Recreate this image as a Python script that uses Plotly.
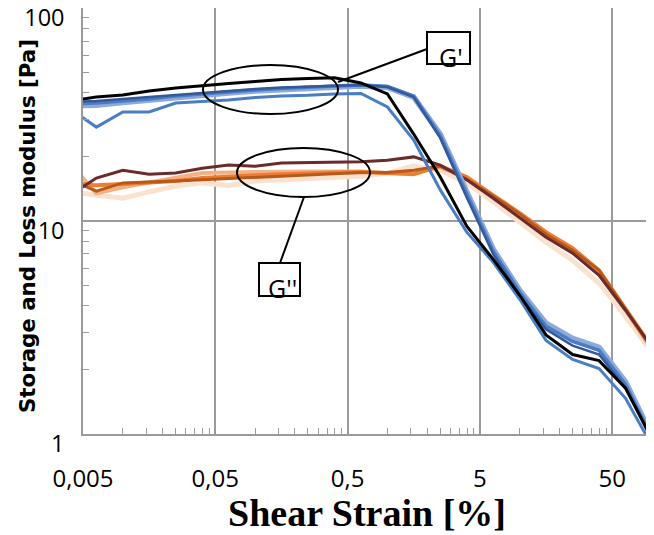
import plotly.graph_objects as go

# Shear strain [%] (measurement points, 5 per decade)
strain = [0.00398, 0.00631, 0.01, 0.0158, 0.0251, 0.0398, 0.0631, 0.1, 0.158, 0.251,
          0.398, 0.631, 1.0, 1.58, 2.51, 3.98, 6.31, 10.0, 15.8, 25.1, 39.8, 63.1, 100.0]

# Storage modulus G' [Pa]
g1_black = [36.6, 38.2, 39.1, 40.8, 42.1, 43.3, 44.2, 45.2, 46.2, 46.7, 47.0, 44.5, 39.5,
            25.6, 16.1, 9.45, 6.61, 4.48, 2.92, 2.36, 2.21, 1.64, 0.95]
g1_dark = [36.2, 36.6, 37.4, 38.2, 39.3, 40.1, 41.0, 41.7, 42.4, 42.8, 43.3, 43.5, 42.6,
           38.2, 24.5, 12.9, 6.98, 4.48, 3.10, 2.60, 2.36, 1.65, 0.93]
g1_mid = [35.4, 35.8, 36.6, 37.4, 38.6, 39.5, 40.4, 41.2, 41.9, 42.6, 43.1, 43.5, 42.8,
          38.6, 25.1, 13.4, 7.21, 4.63, 3.20, 2.72, 2.47, 1.71, 0.96]
g1_light = [34.7, 35.0, 36.0, 37.0, 38.2, 39.1, 39.9, 40.8, 41.5, 42.1, 42.6, 43.1, 42.4,
            38.2, 25.6, 13.7, 7.37, 4.73, 3.31, 2.81, 2.55, 1.76, 0.98]
g1_low = [33.6, 27.6, 32.5, 32.5, 35.8, 36.4, 37.0, 38.0, 38.6, 38.9, 39.5, 39.7, 34.3,
          24.0, 14.0, 8.86, 6.40, 4.29, 2.75, 2.24, 2.03, 1.47, 0.88]

# Loss modulus G'' [Pa]
g2_maroon = [13.2, 15.9, 17.3, 16.6, 16.8, 17.7, 18.3, 18.1, 18.7, 18.8, 18.9, 19.0, 19.3,
             20.0, 18.3, 15.6, 12.8, 10.4, 8.39, 7.06, 5.56, 3.81, 2.55]
g2_brown = [15.6, 13.8, 15.1, 15.2, 15.4, 15.6, 15.8, 16.1, 16.3, 16.5, 16.7, 16.9, 16.9,
            17.3, 18.1, 15.7, 13.1, 10.8, 8.67, 7.29, 5.87, 3.85, 2.52]
g2_orange = [15.1, 14.7, 14.9, 15.1, 15.4, 15.9, 16.2, 16.4, 16.6, 16.8, 16.9, 17.0, 16.8,
             16.6, 18.1, 16.1, 13.2, 10.9, 8.86, 7.45, 5.87, 3.89, 2.55]
g2_lightorange = [18.7, 13.5, 14.4, 15.1, 15.9, 16.8, 16.9, 17.0, 17.1, 17.1, 17.1, 17.1, 16.8,
                  17.0, 17.9, 15.9, 12.9, 10.5, 8.58, 7.13, 5.62, 3.81, 2.47]
g2_peach = [13.7, 13.2, 12.8, 13.7, 14.6, 15.1, 14.7, 15.4, 15.6, 15.8, 16.0, 16.2, 16.8,
            18.1, 17.3, 15.1, 12.3, 9.87, 7.95, 6.54, 5.10, 3.57, 2.41]

x_tickvals = [0.005, 0.05, 0.5, 5, 50]
x_ticktext = ["0,005", "0,05", "0,5", "5", "50"]
y_tickvals = [1, 10, 100]
y_ticktext = ["1", "10", "100"]

fig = go.Figure()

series = [
    (g2_peach, "#FBE1CF", 5),
    (g2_lightorange, "#F4B183", 4),
    (g2_orange, "#ED7D31", 4),
    (g2_brown, "#B8581A", 3),
    (g2_maroon, "#6B2B2B", 3),
    (g1_light, "#8EAADB", 5.5),
    (g1_mid, "#4A7DC4", 3.5),
    (g1_dark, "#34599A", 2.5),
    (g1_low, "#4A7EC4", 3),
    (g1_black, "#000000", 3),
]
for ys, col, w in series:
    fig.add_trace(go.Scatter(x=strain, y=ys, mode="lines",
                             line=dict(color=col, width=w), showlegend=False,
                             hoverinfo="skip"))

# plot-area geometry (page pixels) for annotation placement
L, R, T, B = 83, 652, 8, 434
def px(x):
    return (x - L) / (R - L)
def py(y):
    return (B - y) / (B - T)

shapes = []
def ellipse(x0, x1, y0, y1):
    shapes.append(dict(type="circle", xref="paper", yref="paper",
                       x0=px(x0), x1=px(x1), y0=py(y1), y1=py(y0),
                       line=dict(color="black", width=2)))
def seg(x0, y0, x1, y1):
    shapes.append(dict(type="line", xref="paper", yref="paper",
                       x0=px(x0), y0=py(y0), x1=px(x1), y1=py(y1),
                       line=dict(color="black", width=2)))
def box(x0, x1, y0, y1):
    shapes.append(dict(type="rect", xref="paper", yref="paper",
                       x0=px(x0), x1=px(x1), y0=py(y1), y1=py(y0),
                       line=dict(color="black", width=2), fillcolor="rgba(0,0,0,0)"))

ellipse(203, 338, 65, 114)
ellipse(237, 370, 148, 197)
seg(338, 82, 427, 49)
seg(304, 197, 280, 263)
box(427, 470, 32, 64)
box(259, 300, 263, 296)

annotations = [
    dict(text="G'", xref="paper", yref="paper", x=px(451), y=py(57), showarrow=False,
         xanchor="center", yanchor="middle",
         font=dict(family="Open Sans", size=25, color="black")),
    dict(text="G''", xref="paper", yref="paper", x=px(282), y=py(288), showarrow=False,
         xanchor="center", yanchor="middle",
         font=dict(family="Open Sans", size=25, color="black")),
    dict(text="<b>Shear Strain [%]</b>", xref="paper", yref="paper",
         x=px(367), y=py(513), showarrow=False, xanchor="center", yanchor="middle",
         font=dict(family="Liberation Serif", size=38, color="black")),
    dict(text="<b>Storage and Loss modulus [Pa]</b>", xref="paper", yref="paper",
         x=px(27), y=py(226), showarrow=False, xanchor="center", yanchor="middle",
         textangle=-90,
         font=dict(family="DejaVu Sans", size=21.3, color="black")),
]

grid = "#9A9A9A"
fig.update_layout(
    # the page body adds an 8 px margin, so the figure is 8 px smaller and shifted
    width=646, height=527,
    margin=dict(l=75, r=2, t=0, b=101),
    paper_bgcolor="white", plot_bgcolor="white",
    shapes=shapes, annotations=annotations,
    xaxis=dict(type="log", range=[-2.30103, 2.0], automargin=False,
               tickmode="array", tickvals=x_tickvals, ticktext=x_ticktext,
               ticks="", showgrid=True, gridcolor=grid, gridwidth=1.5,
               showline=True, linecolor=grid, linewidth=1.5, mirror=True,
               ticklabelstandoff=22, ticklabeloverflow="allow",
               tickfont=dict(family="Open Sans", size=24, color="black"),
               minor=dict(ticks="inside", ticklen=6, tickcolor=grid, tickwidth=1.3,
                          tickmode="array",
                          tickvals=[m * d for d in [0.005, 0.05, 0.5, 5, 50] for m in range(2, 10)],
                          showgrid=False),
               zeroline=False),
    yaxis=dict(type="log", range=[-0.0002, 2.0002], automargin=False,
               tickmode="array", tickvals=y_tickvals, ticktext=y_ticktext,
               ticks="", showgrid=True, gridcolor=grid, gridwidth=1.5,
               showline=True, linecolor=grid, linewidth=1.5, mirror=True,
               ticklabelstandoff=12, ticklabelshift=10, ticklabeloverflow="allow",
               tickfont=dict(family="Open Sans", size=23.5, color="black"),
               minor=dict(ticks="inside", ticklen=6, tickcolor=grid, tickwidth=1.3,
                          tickmode="array",
                          tickvals=[m * d for d in [1, 10] for m in range(2, 10)],
                          showgrid=False),
               zeroline=False),
)

fig.write_html("out.html")
